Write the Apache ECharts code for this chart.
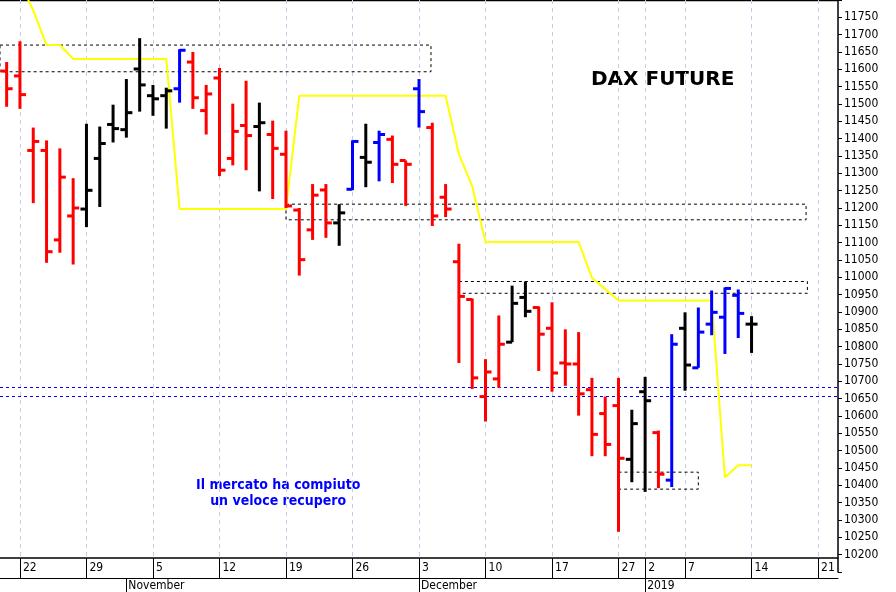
<!DOCTYPE html>
<html><head><meta charset="utf-8">
<script src="https://cdn.jsdelivr.net/npm/echarts@6/dist/echarts.min.js"></script>
<style>html,body{margin:0;padding:0;background:#fff}#c{width:896px;height:592px}</style>
</head><body><div id="c"></div>
<script>
// trading-day index: bar k has index k-1 (first bar = Oct 19)
const opens  = [11595, 11581,11366,11366,11108,11177, 11197,11343,11441,11426,11601, 11524,11524,11544,11621,11481, 11575,11343,11438,11435,11412, 11355,11194,11137,11252,11157, 11254,11346,11389,11398,11337, 11544,11432,11231,11045,10936, 10656,10707,10813,10942,10913, 10853,10753,10750,10676,10607, 10630,10475, 10670,10552,10415, 10853,10739,10865,10885,10948, 10865];
const highs  = [11621, 11681,11432,11395,11372,11286, 11443,11435,11498,11572,11690, 11555,11547,11658,11650,11555, 11604,11501,11567,11504,11452, 11423,11200,11269,11269,11211, 11395,11443,11423,11409,11337, 11572,11446,11269,11097,10939, 10764,10890,10976,10988,10916, 10928,10850,10842,10710,10656, 10710,10618, 10713,10558,10836, 10899,10913,10962,10971,10965, 10888];
const lows   = [11492, 11486,11214,11042,11071,11037, 11145,11203,11389,11403,11478, 11466,11429,11504,11486,11412, 11292,11323,11309,11248,11226, 11200,11005,11108,11114,11091, 11252,11260,11277,11272,11206, 11432,11148,11174,10753,10678, 10584,10681,10813,10885,10730, 10670,10687,10601,10484,10484, 10266,10409, 10381,10392,10395, 10673,10739,10833,10779,10825, 10782];
const closes = [11544, 11527,11392,11074,11289,11200, 11251,11386,11429,11475,11555, 11515,11538,11655,11518,11529, 11309,11421,11409,11446,11372, 11206,11051,11237,11157,11186, 11392,11332,11412,11326,11326, 11478,11177,11197,10945,10710, 10727,10807,10925,10902,10836, 10724,10750,10664,10547,10518, 10478,10578, 10644,10432,10807, 10747,10842,10899,10968,10896, 10865];
const barColors = ['r', 'r','r','r','r','r', 'k','k','k','k','k', 'k','k','b','r','r', 'r','r','r','k','r', 'r','r','r','r','k', 'b','k','b','r','r', 'b','r','r','r','r', 'r','r','k','k','r', 'r','r','r','r','r', 'r','k', 'k','r','b', 'k','b','b','b','b', 'k'];
// yellow stop line, index 0..55
const stopLine = [11850,11770,11670,11670,11630, 11630,11630,11630,11630,11630,11630,11630, 11197, 11197,11197,11197,11197,11197,11197,11197,11197, 11524, 11524,11524,11524,11524,11524,11524,11524,11524,11524,11524,11524, 11355,11263,11102, 11102,11102,11102,11102,11102,11102,11102, 10999,10966,10933, 10933,10933,10933,10933,10933,10933,10933, 10423,10458,10458];
// day-of-month labels for index -1..61
const dayNums = ['19','22','23','24','25','26','29','30','31','1','2','5','6','7','8','9','12','13','14','15','16','19','20','21','22','23','26','27','28','29','30','3','4','5','6','7','10','11','12','13','14','17','18','19','20','21','27','28','2','3','4','7','8','9','10','11','14','15','16','17','18','21','22'];
const shownDayIdx = [0,5,10,15,20,25,30,35,40,45,47,50,55,60];
const monthLabels = {8:'November',30:'December',47:'2019'};
const zones = [[-3,30.9,11670,11593],[20,59.1,11211,11166],[33,59.2,10988,10954],[45,51,10438,10389]];
const hLines = [10684,10658];

const colMap = {r:'#ff0000',k:'#000000',b:'#0000ff'};
const ohlc = opens.map((o,i)=>[i-1,o,highs[i],lows[i],closes[i],barColors[i]]);
const cats = dayNums.slice();
const monthCats = dayNums.map((d,i)=>monthLabels[i-1]||'');
const font = "'Liberation Sans Narrow','DejaVu Sans Condensed',sans-serif";

const chart = echarts.init(document.getElementById('c'));
chart.setOption({
  animation:false,
  grid:{left:0,right:58,top:-2,bottom:18},
  xAxis:[
    {type:'value',min:-1.5,max:61.5,show:false},
    {type:'category',data:cats,position:'bottom',offset:-14,
     axisLine:{show:true,onZero:false,lineStyle:{color:'#000',width:1.5}},
     axisTick:{show:true,alignWithLabel:true,length:20,lineStyle:{color:'#000'},interval:(i)=>shownDayIdx.includes(i-1)},
     axisLabel:{interval:(i)=>shownDayIdx.includes(i-1),align:'left',padding:[0,0,0,3],margin:4,color:'#000',fontFamily:font,fontSize:12}},
    {type:'category',data:monthCats,position:'bottom',offset:6,
     axisLine:{show:true,onZero:false,lineStyle:{color:'#000',width:1}},
     axisTick:{show:true,alignWithLabel:true,length:14,lineStyle:{color:'#000'},interval:(i)=>monthCats[i]!==''},
     axisLabel:{interval:(i)=>monthCats[i]!=='',align:'left',padding:[0,0,0,2],margin:2,color:'#000',fontFamily:font,fontSize:12}}
  ],
  yAxis:{type:'value',position:'right',min:10150,max:11800,interval:50,
    axisLine:{show:true,onZero:false,lineStyle:{color:'#000',width:1.5}},
    axisTick:{show:true,length:4,lineStyle:{color:'#000'}},
    splitLine:{show:false},
    axisLabel:{color:'#000',fontFamily:font,fontSize:12,margin:6,
      formatter:v=>(v<10200||v>11750)?'':String(v)}},
  graphic:[
    {type:'line',shape:{x1:0,y1:0.5,x2:838,y2:0.5},style:{stroke:'#000',lineWidth:1.5}},
    {type:'text',left:591,top:70,style:{text:'DAX FUTURE',font:"bold 20px 'DejaVu Sans',sans-serif",fill:'#000'}},
    {type:'text',left:196,top:477,style:{text:'Il mercato ha compiuto\nun veloce recupero',textAlign:'center',font:"bold 14px "+font,fill:'#0000ff',lineHeight:16}}
  ],
  series:[
    {type:'line',data:[],z:0,
     markLine:{silent:true,symbol:'none',label:{show:false},z:0,
       lineStyle:{color:'#c8cbe8',type:[4,4],width:1},
       data:shownDayIdx.map(v=>({xAxis:v}))}},
    {type:'line',data:[],z:1,markLine:{silent:true,symbol:'none',label:{show:false},z:1,
       lineStyle:{color:'#0000ff',type:[3,3],width:1},data:hLines.map(v=>({yAxis:v}))},
     markArea:{silent:true,z:1,itemStyle:{color:'rgba(0,0,0,0)',borderColor:'#000',borderWidth:1,borderType:[3,3]},
       data:zones.map(z=>[{xAxis:z[0],yAxis:z[2]},{xAxis:z[1],yAxis:z[3]}])}},
    {type:'line',data:stopLine.map((v,i)=>[i,v]),showSymbol:false,symbol:'none',
     lineStyle:{color:'#ffff00',width:2},z:5},
    {type:'custom',z:10,zlevel:1,data:ohlc,
     renderItem:(params,api)=>{
       const x=api.value(0);
       const pH=api.coord([x,api.value(2)]), pL=api.coord([x,api.value(3)]);
       const pO=api.coord([x,api.value(1)]), pC=api.coord([x,api.value(4)]);
       const c=colMap[ohlc[params.dataIndex][5]];
       const st={stroke:c,lineWidth:3};
       return {type:'group',children:[
         {type:'line',shape:{x1:pH[0],y1:pH[1],x2:pL[0],y2:pL[1]},style:st},
         {type:'line',shape:{x1:pO[0]-6,y1:pO[1],x2:pO[0],y2:pO[1]},style:st},
         {type:'line',shape:{x1:pC[0],y1:pC[1],x2:pC[0]+6,y2:pC[1]},style:st}
       ]};
     }}
  ]
});
</script></body></html>
